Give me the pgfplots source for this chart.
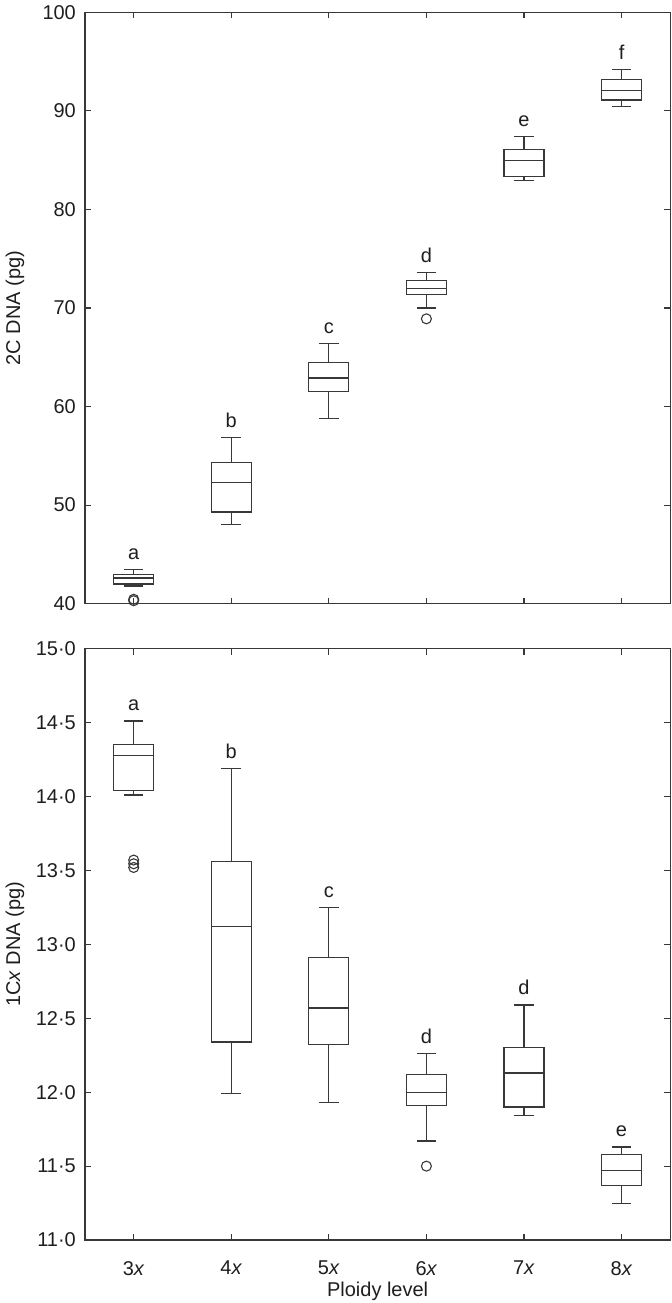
\documentclass[border=0pt]{standalone}
\usepackage{fontspec}
\setmainfont{Liberation Sans}
\usepackage{pgfplots}
\usepackage{pgfplotstable}
\pgfplotsset{compat=1.18}
\definecolor{ln}{HTML}{383838}
\definecolor{tx}{HTML}{1E1E1E}
\newcommand{\tf}{\fontsize{10}{12}\selectfont}
% box statistics: position, lower whisker, lower quartile, median, upper quartile, upper whisker
\pgfplotstableread{
pos lw lq med uq uw
3 41.8 42.0 42.6 43.0 43.5
4 48.0 49.3 52.3 54.3 56.9
5 58.8 61.5 62.9 64.5 66.4
6 70.0 71.4 72.0 72.8 73.6
7 82.9 83.3 85.0 86.1 87.4
8 90.4 91.1 92.1 93.2 94.2
}\dataA
\pgfplotstableread{
pos y
3 40.45
3 40.3
6 68.9
}\outA
\pgfplotstableread{
pos lw lq med uq uw
3 14.01 14.04 14.28 14.35 14.51
4 11.99 12.34 13.12 13.56 14.19
5 11.93 12.32 12.57 12.91 13.25
6 11.67 11.91 12.00 12.12 12.26
7 11.84 11.90 12.13 12.30 12.59
8 11.25 11.37 11.47 11.58 11.63
}\dataB
\pgfplotstableread{
pos y
3 13.57
3 13.545
3 13.52
6 11.50
}\outB
\pgfplotsset{
  common/.style={
    width=293pt, height=296pt, scale only axis,
    xmin=2.5, xmax=8.5,
    xtick={3,4,5,6,7,8},
    tick align=inside,
    xtick pos=both, ytick pos=both,
    major tick length=3pt,
    axis line style={ln, line width=0.6pt},
    every tick/.style={ln, line width=0.6pt},
    tick label style={font=\tf, text=tx},
    yticklabel style={xshift=-1pt},
    xticklabel style={yshift=-7pt},
    every axis y label/.style={at={(axis description cs:-0.1195,0.5)}, anchor=center, rotate=90, font=\tf, text=tx},
  },
  boxedge/.style={ln, line width=0.6pt, only marks, mark=-, mark size=10pt, mark options={solid, ln, line width=0.6pt}},
  whisk/.style={error bars/.cd, y explicit, y dir=#1, error mark=|,
     error mark options={solid, draw=ln, line width=0.6pt, mark size=4.9pt},
     error bar style={solid, draw=ln, line width=0.6pt}},
  side/.style={draw=none, mark=none,
     error bars/.cd, y explicit, y dir=plus, error mark=none,
     error bar style={solid, draw=ln, line width=0.6pt, line cap=rect}},
  outl/.style={only marks, mark=o, mark size=2.5pt, mark options={solid, ln, line width=0.55pt}},
}
\newcommand{\boxes}[2]{%
  \addplot[boxedge, whisk=plus] table[x=pos, y=uq, y error expr=\thisrow{uw}-\thisrow{uq}] {#1};
  \addplot[boxedge, whisk=minus] table[x=pos, y=lq, y error expr=\thisrow{lq}-\thisrow{lw}] {#1};
  \addplot[boxedge] table[x=pos, y=med] {#1};
  \addplot[side] table[x expr=\thisrow{pos}-0.205, y=lq, y error expr=\thisrow{uq}-\thisrow{lq}] {#1};
  \addplot[side] table[x expr=\thisrow{pos}+0.205, y=lq, y error expr=\thisrow{uq}-\thisrow{lq}] {#1};
  \addplot[outl] table[x=pos, y=y] {#2};
}
\begin{document}
\begin{tikzpicture}
\useasboundingbox (-42.5pt,-31.5pt) rectangle (293.5pt,620.65pt);
% Panel A
\begin{axis}[common, at={(0pt,318.5pt)}, anchor=south west,
  ymin=40, ymax=100, ytick={40,50,60,70,80,90,100},
  yticklabels={40,50,60,70,80,90,100},
  xticklabels={},
  ylabel={2C DNA (pg)}]
\boxes{\dataA}{\outA}
\node[font=\tf, text=tx, anchor=base] at (axis cs:3,44.5) {a};
\node[font=\tf, text=tx, anchor=base] at (axis cs:4,57.9) {b};
\node[font=\tf, text=tx, anchor=base] at (axis cs:5,67.4) {c};
\node[font=\tf, text=tx, anchor=base] at (axis cs:6,74.6) {d};
\node[font=\tf, text=tx, anchor=base] at (axis cs:7,88.4) {e};
\node[font=\tf, text=tx, anchor=base] at (axis cs:8,95.2) {f};
\node[font=\fontsize{12.5}{14}\selectfont, text=tx, xshift=-38pt, yshift=-2pt] at (axis description cs:0,1) {A};
\end{axis}
% Panel B
\begin{axis}[common, at={(0pt,0pt)}, anchor=south west,
  ymin=11, ymax=15, ytick={11,11.5,12,12.5,13,13.5,14,14.5,15},
  yticklabels={11·0,11·5,12·0,12·5,13·0,13·5,14·0,14·5,15·0},
  xticklabels={3\textit{x},4\textit{x},5\textit{x},6\textit{x},7\textit{x},8\textit{x}},
  ylabel={1C\textit{x} DNA (pg)},
  xlabel={Ploidy level},
  every axis x label/.style={at={(axis description cs:0.5,0)}, yshift=-25.5pt, anchor=center, font=\tf, text=tx}]
\boxes{\dataB}{\outB}
\node[font=\tf, text=tx, anchor=base] at (axis cs:3,14.58) {a};
\node[font=\tf, text=tx, anchor=base] at (axis cs:4,14.26) {b};
\node[font=\tf, text=tx, anchor=base] at (axis cs:5,13.32) {c};
\node[font=\tf, text=tx, anchor=base] at (axis cs:6,12.33) {d};
\node[font=\tf, text=tx, anchor=base] at (axis cs:7,12.66) {d};
\node[font=\tf, text=tx, anchor=base] at (axis cs:8,11.70) {e};
\node[font=\fontsize{12.5}{14}\selectfont, text=tx, xshift=-37.5pt, yshift=-2pt] at (axis description cs:0,1) {B};
\end{axis}
\end{tikzpicture}
\end{document}
